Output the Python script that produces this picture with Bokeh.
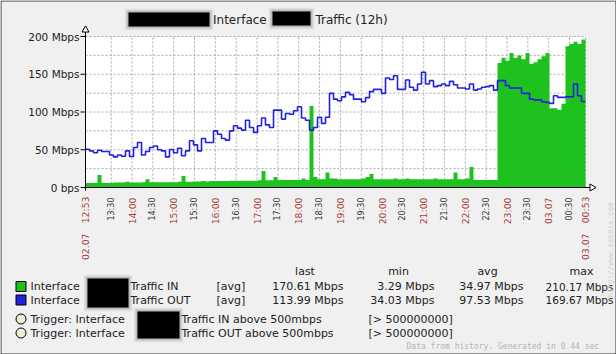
import math
from bokeh.plotting import figure
from bokeh.models import Range1d, ColumnDataSource
from bokeh.core.properties import value
from bokeh.embed import file_html
from bokeh.resources import INLINE

# ---------------- data ----------------
bin_minutes = 5.76          # one sample every 5.76 min, 12h window starting 02.07 12:53
span_minutes = 720
y_max = 200

in_mbps = [6, 6, 6, 16.6, 6, 6, 6, 6.5, 6.5, 6.5, 7.5, 6.5, 6.5, 6.5, 7, 10.8, 7, 7, 7, 7,
           7, 7, 7, 7.5, 15.3, 7.5, 7.5, 8, 8, 8.5, 8, 8.5, 8.5, 8.5, 8.5, 8.5, 9, 9, 9, 9,
           9, 9, 9, 9.5, 22, 9.5, 9.5, 14, 10, 10, 10, 10, 10, 10, 12, 10, 108, 14, 11, 11,
           20, 12, 12, 11, 11, 11, 11, 11, 11, 12, 14, 18, 11, 11, 11, 11, 11, 12, 11, 11,
           12, 11, 11, 11, 11, 11, 11, 12, 11, 11, 11, 11, 20, 11, 11, 12, 27, 10, 10, 10,
           10, 10, 10, 165, 172, 168, 178, 172, 175, 170, 178, 164, 166, 170, 174, 178, 105, 105, 103, 111,
           187, 190, 193, 190, 196]

out_mbps = [50.7, 48.5, 46, 49.4, 47.6, 47.6, 43, 40.5, 43, 41.4, 48.5, 41, 53, 59.6, 43, 47.6, 53, 55, 50, 48.5,
            40.5, 50.3, 46, 52, 42, 48.5, 62, 56.5, 48.5, 65, 59.6, 59.6, 75, 70.6, 65, 62.7, 75, 81.7, 78.6, 76,
            89, 79.5, 73, 81.7, 92, 83, 79.5, 102.5, 102.5, 90.6, 98, 97, 101.7, 107, 92, 89, 76, 79.5, 93, 85,
            93, 124.7, 117, 115, 120, 126, 123, 117, 117, 113.6, 119, 127, 130, 130, 124.7, 145, 143, 148, 130, 130,
            142.4, 132.7, 129, 137, 152.6, 137, 141.5, 133.6, 135, 137, 135, 140.6, 136, 131.8, 131.8, 130.5, 137, 129, 130.5, 132.7,
            133.6, 135, 129, 141.5, 141.5, 135, 131.8, 131.8, 131.8, 124.7, 124.7, 117, 116, 116, 113.6, 112.7, 111.4, 121.6, 119.4, 119.4,
            120, 120, 137, 121.6, 114]

x_tick_minutes = [37, 67, 97, 127, 157, 187, 217, 247, 277, 307, 337, 367, 397, 427, 457, 487,
                  517, 547, 577, 607, 637, 667, 697]
x_tick_labels = ["13:30", "14:00", "14:30", "15:00", "15:30", "16:00", "16:30", "17:00", "17:30",
                 "18:00", "18:30", "19:00", "19:30", "20:00", "20:30", "21:00", "21:30", "22:00",
                 "22:30", "23:00", "23:30", "03.07", "00:30"]
start_date, start_time = "02.07", "12:53"
end_date, end_time = "03.07", "00:53"

y_ticks = [0, 50, 100, 150, 200]
y_tick_labels = ["0 bps", "50 Mbps", "100 Mbps", "150 Mbps", "200 Mbps"]
y_grid = [25, 50, 75, 100, 125, 150, 175, 200]

series_names = ["Traffic IN", "Traffic OUT"]
stat_last = ["170.61 Mbps", "113.99 Mbps"]
stat_min = ["3.29 Mbps", "34.03 Mbps"]
stat_avg = ["34.97 Mbps", "97.53 Mbps"]
stat_max = ["210.17 Mbps", "169.67 Mbps"]
trigger_names = ["Traffic IN above 500mbps", "Traffic OUT above 500mbps"]
trigger_values = ["[> 500000000]", "[> 500000000]"]

# ---------------- layout ----------------
W, H = 616, 354
FL, FR, FT, FB = 85, 585, 36, 187          # plot area edges in canvas px
GREEN, BLUE = "#1ec21e", "#2222dd"
RED_TXT, DARK_TXT = "#aa3d3d", "#333333"
FONT = "DejaVu Sans"


def dx(sx):
    return (sx - FL) * span_minutes / (FR - FL)


def dy(sy):
    return (FB - sy) * y_max / (FB - FT)


p = figure(width=W, height=H, output_backend="svg", toolbar_location=None,
           x_range=Range1d(dx(0), dx(W)), y_range=Range1d(dy(H), dy(0)),
           min_border=0, min_border_left=0, min_border_right=0,
           min_border_top=0, min_border_bottom=0)
p.axis.visible = False
p.grid.visible = False
p.outline_line_color = None
p.background_fill_color = "#f0f0f0"
p.border_fill_color = "#f0f0f0"

# plot area
p.quad(left=[0], right=[span_minutes], bottom=[0], top=[y_max], fill_color="white", line_color=None)

# grid
gx = x_tick_minutes + [span_minutes]
p.segment(x0=gx, x1=gx, y0=[0] * len(gx), y1=[y_max] * len(gx),
          line_color="#a8a8a8", line_dash="2 2", line_width=1)
p.segment(x0=[0] * len(y_grid), x1=[span_minutes] * len(y_grid), y0=y_grid, y1=y_grid,
          line_color="#a8a8a8", line_dash="2 2", line_width=1)

# series
times = [i * bin_minutes for i in range(len(in_mbps))] + [span_minutes]
p.varea_step(x=times, y1=[0] * len(times), y2=in_mbps + [in_mbps[-1]], step_mode="after",
             fill_color=GREEN)
p.step(x=times, y=out_mbps + [out_mbps[-1]], mode="after", line_color=BLUE, line_width=1.6)

# axes
p.segment(x0=[0, dx(84)], x1=[0, dx(591)], y0=[0, 0], y1=[dy(31), 0], line_color="black", line_width=1)
p.scatter(x=[0], y=[dy(29.5)], marker="triangle", size=7, fill_color="white", line_color="black")
p.scatter(x=[dx(591.5)], y=[0], marker="triangle", size=7, angle=-math.pi / 2,
          fill_color="white", line_color="black")
p.segment(x0=[dx(80)] * len(y_ticks), x1=[0] * len(y_ticks), y0=y_ticks, y1=y_ticks,
          line_color="black", line_width=1)
p.segment(x0=[0], x1=[0], y0=[0], y1=[dy(190)], line_color="black", line_width=1)
p.text(x=[dx(79)] * len(y_ticks), y=y_ticks, text=y_tick_labels, text_font=value(FONT),
       text_font_size=value("10.5px"), text_color="#222222", text_align="right",
       text_baseline="middle")


def txt(sx, sy, s, size="11px", color="#222222", align="left", baseline="middle",
        angle=0.0, font=FONT, xdata=None):
    p.text(x=[dx(sx) if xdata is None else xdata], y=[dy(sy)], text=[s], text_font=value(font),
           text_font_size=value(size), text_color=color, text_align=align,
           text_baseline=baseline, angle=angle)


def box(l, r, t, b, fill="black", line=None, alpha=1.0):
    p.quad(left=[dx(l)], right=[dx(r)], top=[dy(t)], bottom=[dy(b)],
           fill_color=fill, fill_alpha=alpha, line_color=line, line_width=1)


def redact(l, r, t, b):
    for g, a in ((4, 0.06), (3, 0.09), (2, 0.13), (1, 0.2)):
        box(l - g, r + g, t - g, b + g, fill="#555555", alpha=a)
    box(l, r, t, b)


# x tick labels
maj = [lab.endswith(":00") or "." in lab for lab in x_tick_labels]
src = ColumnDataSource(dict(x=x_tick_minutes, y=[dy(197)] * len(x_tick_minutes),
                            text=x_tick_labels,
                            size=["9.3px" if m else "8px" for m in maj],
                            color=[RED_TXT if m else DARK_TXT for m in maj]))
p.text(x="x", y="y", text="text", source=src, angle=math.pi / 2, text_align="right",
       text_baseline="middle", text_font=value(FONT), text_font_size="size", text_color="color")
for m, d, t in ((0, start_date, start_time), (span_minutes, end_date, end_time)):
    txt(0, 196, t, size="9.3px", color=RED_TXT, align="right", angle=math.pi / 2, xdata=m)
    txt(0, 233, d, size="9.3px", color=RED_TXT, align="right", angle=math.pi / 2, xdata=m)

# title
txt(212.5, 19, "Interface", size="12px")
txt(315, 19, "Traffic  (12h)", size="12px")
redact(128, 209, 12, 26)
redact(272, 310, 11, 25)

# legend
txt(304.5, 271, "last", align="center")
txt(398, 271, "min", align="center")
txt(487, 271, "avg", align="center")
txt(581, 271, "max", align="center")
for k, (sy, col) in enumerate(((286, GREEN), (299.5, BLUE))):
    box(15.5, 25.5, sy - 5, sy + 5, fill=col, line="black")
    txt(30, sy, "Interface")
    txt(130, sy, series_names[k])
    txt(216, sy, "[avg]")
    txt(343, sy, stat_last[k], align="right")
    txt(434, sy, stat_min[k], align="right")
    txt(523, sy, stat_avg[k], align="right")
    txt(613, sy, stat_max[k], align="right", size="10.5px")
redact(87, 128, 278, 307)
for k, sy in enumerate((318.5, 332.5)):
    p.scatter(x=[dx(20.5)], y=[dy(sy)], marker="circle", size=10, fill_color="#eeeed0",
              line_color="black", line_width=1)
    txt(30, sy, "Trigger: Interface")
    txt(181, sy, trigger_names[k])
    txt(368, sy, trigger_values[k])
redact(137, 179, 311, 338)

txt(406, 346, "Data from history. Generated in 0.44 sec", size="8px", color="#b4b4b4",
    font="DejaVu Sans Mono")
txt(610, 202, "http://www.zabbix.com", size="7.5px", color="#cccccc", align="right",
    angle=math.pi / 2, font="DejaVu Sans Mono")

# outer border
box(0.5, 615.5, 0.5, 353.5, fill=None, line="#333333")

open("out.html", "w").write(file_html(p, INLINE))
